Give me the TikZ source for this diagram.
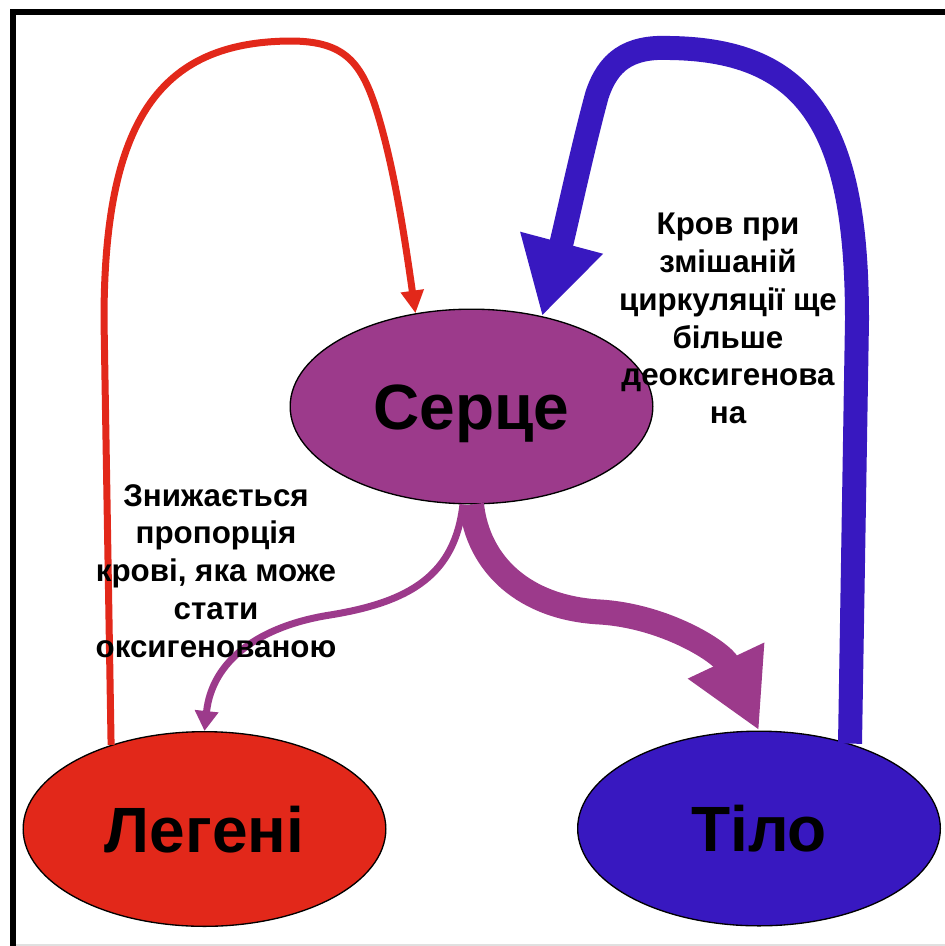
\documentclass[tikz,border=0pt]{standalone}
\usepackage{fontspec}
\setmainfont{Liberation Sans}
\usetikzlibrary{shapes.geometric,arrows.meta}
\definecolor{lungred}{RGB}{226,40,26}
\definecolor{heartpurple}{RGB}{156,58,139}
\definecolor{bodyblue}{RGB}{56,24,192}
\begin{document}
\begin{tikzpicture}
		[x=0.75pt,y=-0.75pt,
		organ/.style={ellipse,draw=black,line width=1pt,
			minimum width=272pt,minimum height=146pt,inner sep=0pt,
			text height=34.5pt,text depth=0pt,
			font=\fontsize{48}{48}\selectfont\bfseries},
		note/.style={align=center,anchor=north,inner sep=0pt,
			font=\fontsize{23.5}{28.3}\selectfont\bfseries},
		redflow/.style={draw=lungred,line width=5.25pt,
			-{Triangle[length=17pt,width=16.5pt]}},
		thinflow/.style={draw=heartpurple,line width=5.25pt,
			-{Triangle[length=15pt,width=17pt]}},
		thickflow/.style={draw=heartpurple,line width=18.75pt,
			-{Triangle[length=58pt,width=59pt]}},
		blueflow/.style={draw=bodyblue,line width=18pt,
			-{Triangle[length=57pt,width=60pt]}}]
		\useasboundingbox (0,0) rectangle (945,946);
		\draw[line width=4.5pt] (13,946) -- (13,12) -- (945,12);
		\draw[black!12,line width=1.5pt] (16,945) -- (945,945);
		\node[organ,fill=heartpurple] (heart) at (471.5,406.5) {Серце};
		\node[organ,fill=lungred] (lungs) at (204.5,829) {Легені};
		\node[organ,fill=bodyblue] (body) at (759,828.5) {Тіло};
		\draw[redflow] (lungs.138) -- (104,320)
			.. controls (104,120) and (160,42) .. (290,41)
			.. controls (345,41) and (362,62) .. (378,115)
			.. controls (395,172) and (405,240) .. (heart.121);
		\draw[blueflow] (body.43) -- (857,320)
			.. controls (857,130) and (810,50) .. (670,48)
			.. controls (628,46) and (608,62) .. (597,95)
			.. controls (582,150) and (565,230) .. (heart.52);
		\draw[thinflow] (heart.265)
			.. controls (455,575) and (410,602) .. (330,615)
			.. controls (260,626) and (212,660) .. (lungs.north);
		\draw[thickflow] (heart.south)
			.. controls (478,565) and (525,608) .. (600,612)
			.. controls (665,616) and (722,652) .. (body.north);
		\node[note] (mixed) at (728,213) {Кров при\\змішаній\\циркуляції ще\\більше\\деоксигенова\\на};
		\node[note] (fewer) at (216,484) {Знижається\\пропорція\\крові, яка може\\стати\\оксигенованою};
	\end{tikzpicture}
\end{document}
